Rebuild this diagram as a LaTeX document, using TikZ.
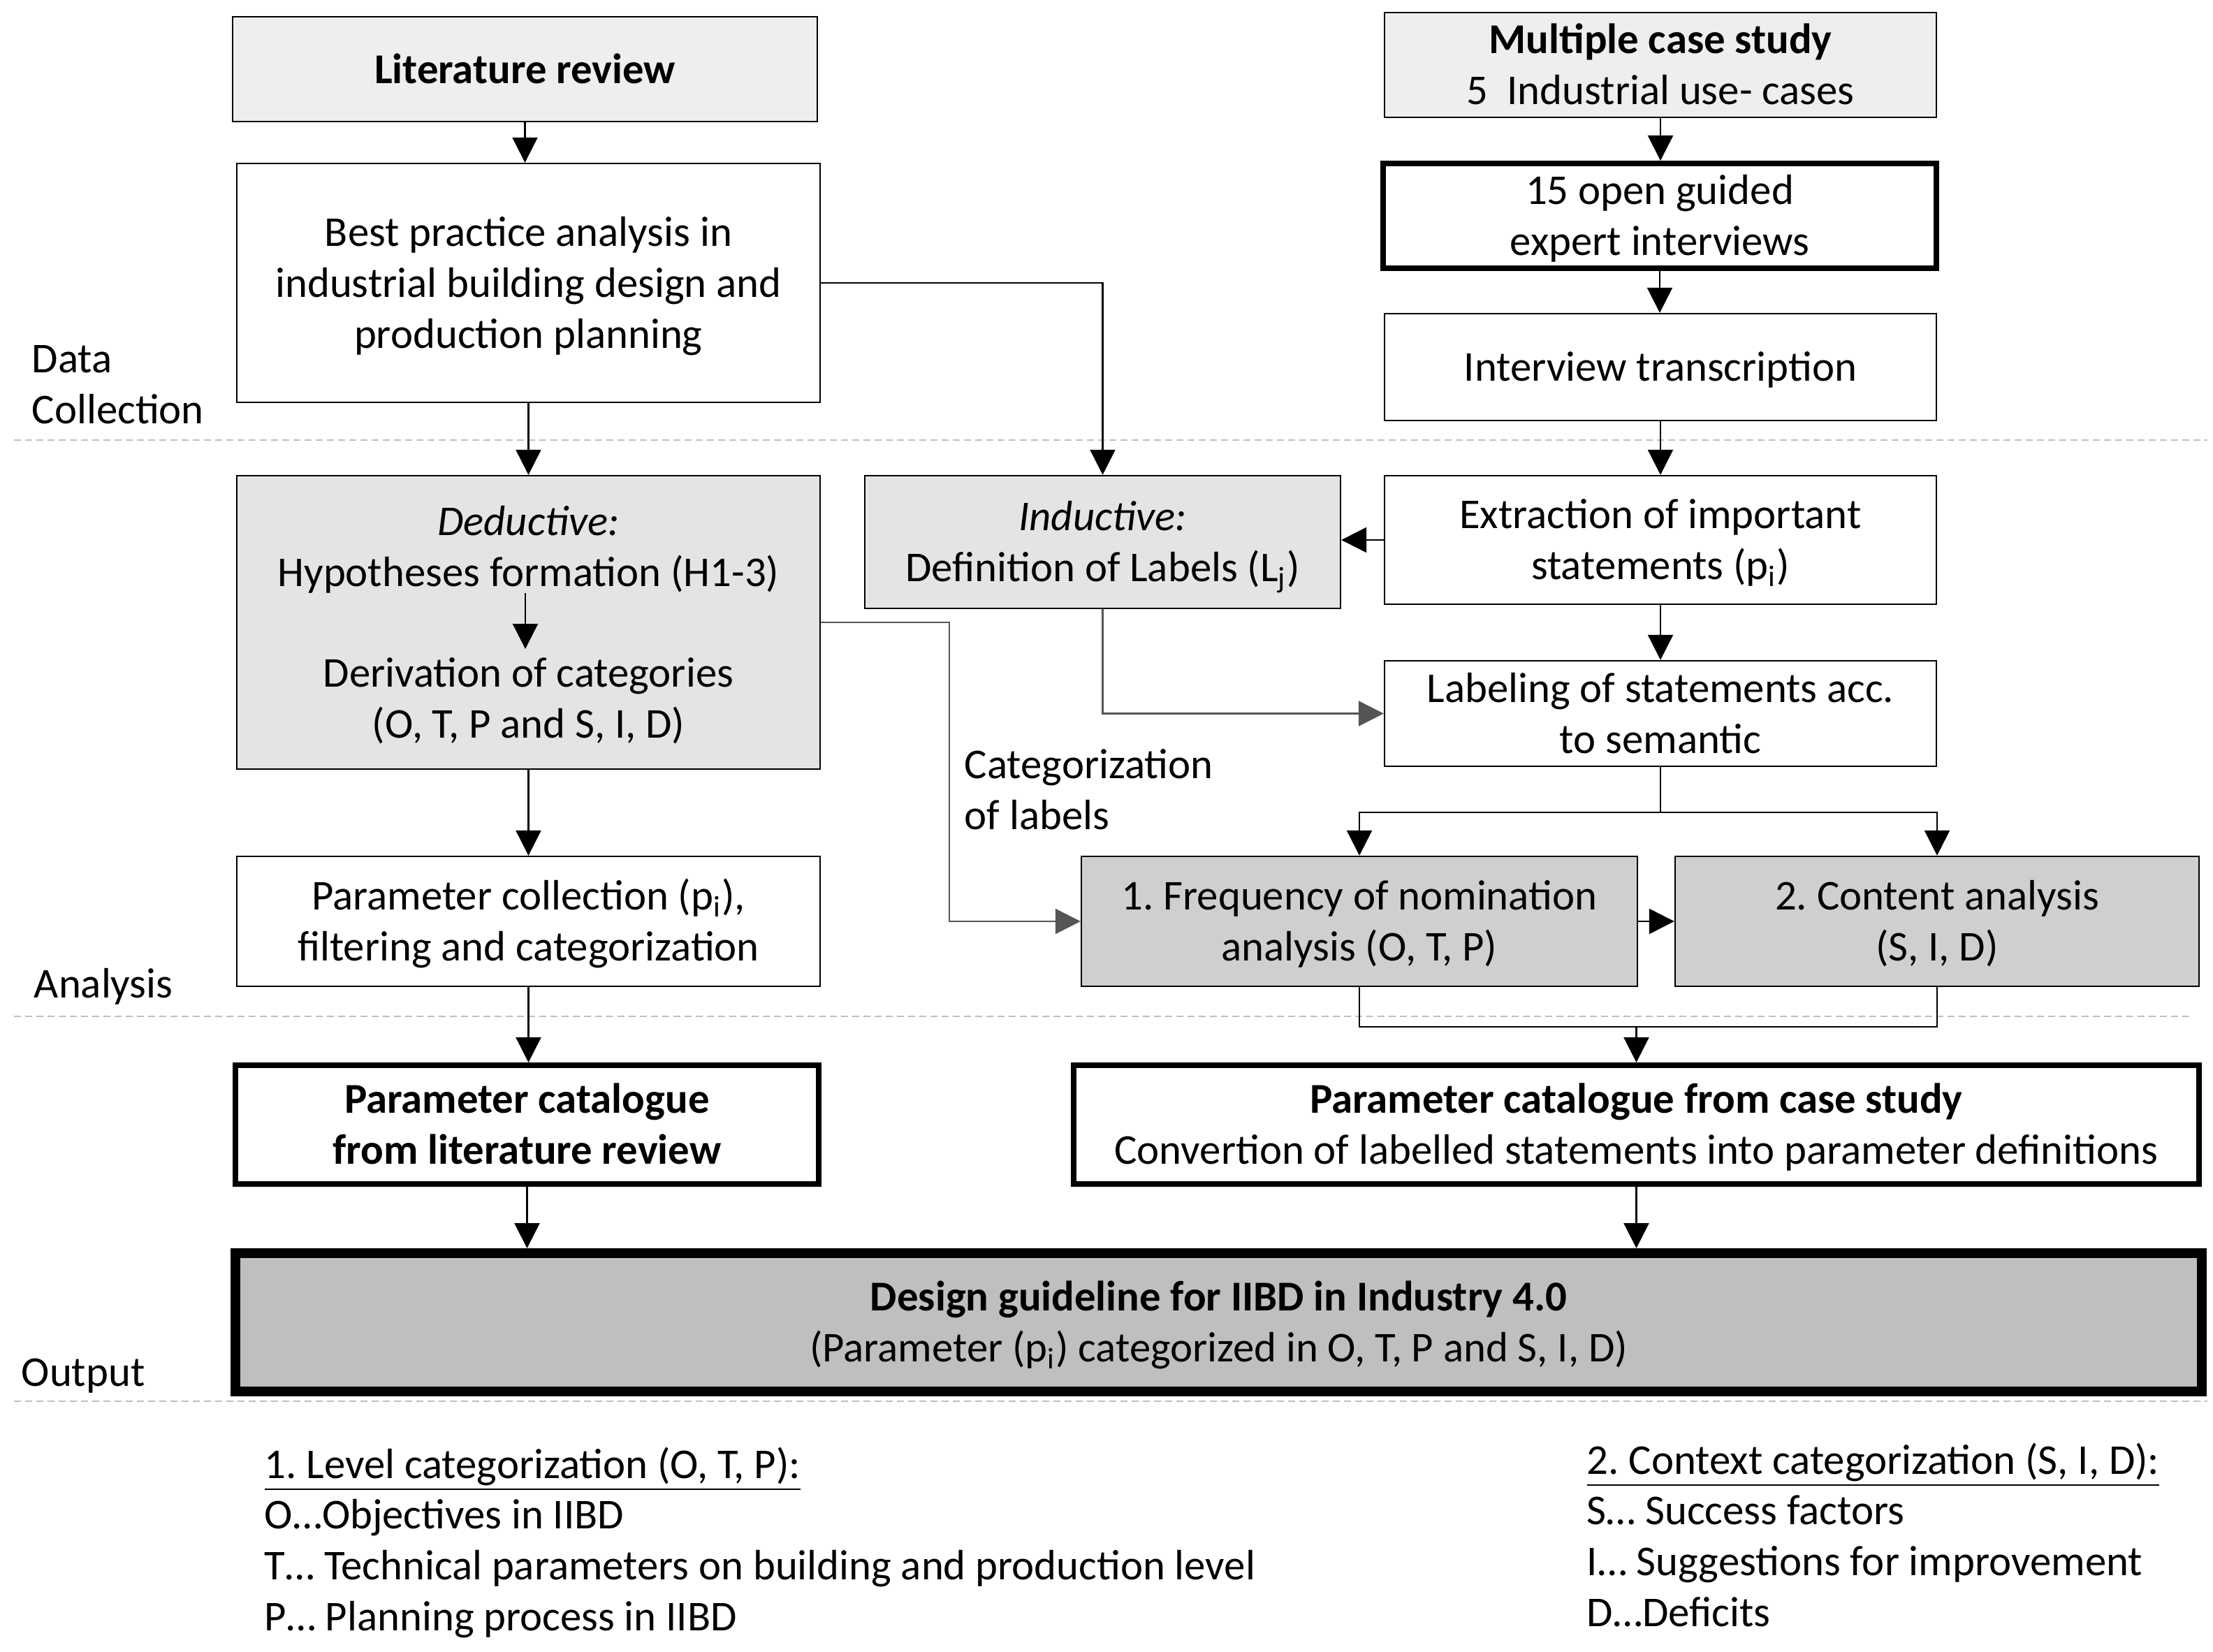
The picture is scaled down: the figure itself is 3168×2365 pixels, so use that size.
\documentclass[tikz,border=0pt]{standalone}
\usepackage{fontspec}
\setmainfont{Carlito}
\usetikzlibrary{arrows.meta}
\frenchspacing
\definecolor{fillA}{HTML}{EEEEEE}
\definecolor{fillB}{HTML}{E4E4E4}
\definecolor{fillC}{HTML}{D0CECE}
\definecolor{fillD}{HTML}{BFBFBF}
\definecolor{dashgray}{HTML}{BFBFBF}
\definecolor{linegray}{HTML}{555555}
\newcommand\wst{\rule[-4pt]{0pt}{18.1pt}}
\begin{document}
\begin{tikzpicture}[x=0.25pt,y=-0.25pt,
  font=\fontsize{15.2}{18.2}\selectfont\frenchspacing,
  txt/.style={align=center, inner sep=0pt},
  box/.style={txt, draw, line width=0.6pt},
  thickbox/.style={box, line width=2pt},
  arr/.style={line width=0.6pt, -{Triangle[length=9pt,width=9pt]}},
  conn/.style={line width=0.6pt},
  sep/.style={draw=dashgray, line width=0.7pt, dash pattern=on 2.5pt off 1.5pt},
  lbl/.style={txt, align=left, anchor=west}
]
\useasboundingbox (0,0) rectangle (3168,2365);

% separators
\draw[sep] (20,630) -- (3160,630);
\draw[sep] (20,1455) -- (3140,1455);
\draw[sep] (20,2006) -- (3160,2006);

% phase labels
\node[lbl] (dc) at (45,550) {\wst Data\\Collection\wst};
\node[lbl] (an) at (48,1408) {\wst Analysis};
\node[lbl] (ou) at (30,1964) {\wst Output};

% left column
\node[box, fill=fillA, minimum width=209.25pt, minimum height=37.5pt] (lit) at (751.5,99) {\wst\bfseries Literature review};
\node[box, minimum width=208.75pt, minimum height=85.5pt] (best) at (756.5,405) {\wst Best practice analysis in\\industrial building design and\\production planning\wst};
\node[box, fill=fillB, minimum width=208.75pt, minimum height=105pt] (ded) at (756.5,891) {};
\node[txt] (dedA) at (756.5,783) {\wst\itshape Deductive:\\\upshape Hypotheses formation (H1-3)\wst};
\node[txt] (dedB) at (756.5,1000) {\wst Derivation of categories\\(O, T, P and S, I, D)\wst};
\coordinate (ia) at (752,849);
\coordinate (ib) at (752,929);
\node[box, minimum width=208.75pt, minimum height=46.5pt] (pcol) at (756.5,1319) {\wst Parameter collection (p\textsubscript{i}),\\filtering and categorization\wst};
\node[thickbox, minimum width=208.75pt, minimum height=42.5pt] (pcl) at (754.5,1610) {\wst\bfseries Parameter catalogue\\\bfseries from literature review\wst};

% right column
\node[box, fill=fillA, minimum width=197.5pt, minimum height=37.5pt] (mcs) at (2377,93) {\wst\textbf{Multiple case study}\\5\ \ Industrial use- cases\wst};
\node[thickbox, minimum width=198pt, minimum height=37.5pt] (open) at (2376,309) {\wst 15 open guided\\expert interviews\wst};
\node[box, minimum width=197.5pt, minimum height=38.25pt] (intv) at (2377,525.5) {\wst Interview transcription};
\node[box, minimum width=197.5pt, minimum height=46pt] (extr) at (2377,773) {\wst Extraction of important\\statements (p\textsubscript{i})\wst};
\node[box, fill=fillB, minimum width=170.25pt, minimum height=47.5pt] (ind) at (1578.5,776) {\wst\textit{Inductive:}\\Definition of Labels (L\textsubscript{j})\wst};
\node[box, minimum width=197.5pt, minimum height=37.75pt] (lab) at (2377,1021.5) {\wst Labeling of statements acc.\\to semantic\wst};
\node[box, fill=fillC, minimum width=199pt, minimum height=46.5pt] (freq) at (1946,1319) {\wst 1. Frequency of nomination\\analysis (O, T, P)\wst};
\node[box, fill=fillC, minimum width=187.5pt, minimum height=46.5pt] (cont) at (2773,1319) {\wst 2. Content analysis\\(S, I, D)\wst};
\node[thickbox, minimum width=402.75pt, minimum height=42.5pt] (pcc) at (2342.5,1610) {\wst\textbf{Parameter catalogue from case study}\\Convertion of labelled statements into parameter definitions\wst};

% output
\node[box, line width=3.5pt, fill=fillD, minimum width=703.75pt, minimum height=49.5pt] (dg) at (1744.5,1893) {\wst\textbf{Design guideline for IIBD in Industry 4.0}\\(Parameter (p\textsubscript{i}) categorized in O, T, P and S, I, D)\wst};

\node[lbl] (cat) at (1380,1131) {\wst Categorization\\of labels\wst};

% legends
\node[lbl] (legL) at (378,2205) {\wst\underline{1. Level categorization (O, T, P):}\\O…Objectives in IIBD\\T… Technical parameters on building and production level\\P… Planning process in IIBD\wst};
\node[lbl] (legR) at (2271,2199) {\wst\underline{2. Context categorization (S, I, D):}\\S… Success factors\\I… Suggestions for improvement\\D…Deficits\wst};

% connectors
\draw[arr] (lit.south) -- (lit.south |- best.north);
\draw[arr] (best.south) -- (ded.north);
\draw[arr] (best.east) -| (ind.north);
\draw[arr] (ia) -- (ib);
\draw[arr] (ded.south) -- (pcol.north);
\draw[arr, draw=linegray] (ded.east) -- ++(184,0) |- (freq.west);
\draw[arr] (pcol.south) -- (pcol.south |- pcl.north);
\draw[arr] (pcl.south) -- (pcl.south |- dg.north);

\draw[arr] (mcs.south) -- (mcs.south |- open.north);
\draw[arr] (open.south) -- (open.south |- intv.north);
\draw[arr] (intv.south) -- (extr.north);
\draw[arr] (extr.west) -- (extr.west -| ind.east);
\draw[arr] (extr.south) -- (lab.north);
\draw[arr, draw=linegray] (ind.south) |- (lab.west);
\draw[conn] (lab.south) -- ++(0,65) coordinate (split);
\draw[arr] (split) -| (freq.north);
\draw[arr] (split) -| (cont.north);
\draw[arr] (freq.east) -- (cont.west);
\draw[conn] (freq.south) -- ++(0,57) coordinate (mrgL) -| (cont.south);
\coordinate (mrg) at (pcc.north |- mrgL);
\draw[arr] (mrg) -- (pcc.north);
\draw[arr] (pcc.south) -- (pcc.south |- dg.north);
\end{tikzpicture}
\end{document}
